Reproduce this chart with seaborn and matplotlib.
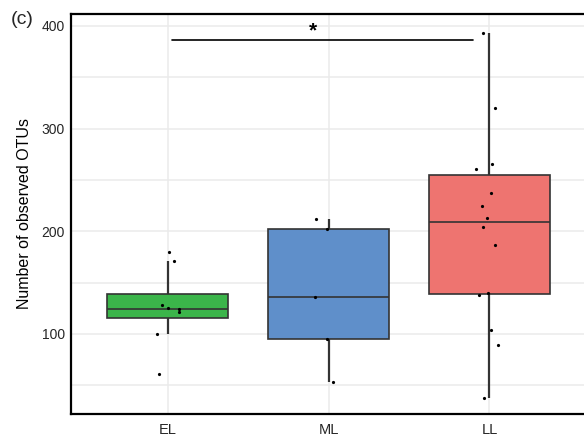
import numpy as np
import pandas as pd
import matplotlib
matplotlib.use("Agg")
import matplotlib.pyplot as plt
import seaborn as sns

# Observed OTU counts per stage
groups = ["EL", "ML", "LL"]
el_otus = [180, 171, 128, 125, 121, 124, 100, 61]
ml_otus = [212, 202, 136, 95, 53]
ll_otus = [393, 320, 265, 261, 237, 225, 213, 204, 187, 140, 138, 104, 89, 38]
colors = {"EL": "#3BB54A", "ML": "#5F8FCA", "LL": "#EE7470"}

y_major = [100, 200, 300, 400]
y_minor = [50, 150, 250, 350]

df = pd.DataFrame({
    "group": ["EL"] * len(el_otus) + ["ML"] * len(ml_otus) + ["LL"] * len(ll_otus),
    "otus": el_otus + ml_otus + ll_otus,
})

sns.set_theme(style="white")
plt.rcParams["font.family"] = ["Liberation Sans", "DejaVu Sans"]

fig = plt.figure(figsize=(5.84, 4.43), dpi=100)
ax = fig.add_axes([71 / 584, 29 / 443, 515 / 584, 400.5 / 443])

# light grid behind everything
for y in y_major + y_minor:
    ax.axhline(y, color="#EBEBEB", lw=1.1, zorder=0)
for i in range(len(groups)):
    ax.axvline(i, color="#EBEBEB", lw=1.1, zorder=0)

sns.boxplot(data=df, x="group", y="otus", hue="group", order=groups,
            palette=colors, width=0.75, showfliers=False, showcaps=False,
            linecolor="#333333", linewidth=1.2, saturation=1, legend=False,
            whiskerprops={"linewidth": 1.6}, ax=ax, zorder=2)

np.random.seed(3)
sns.stripplot(data=df, x="group", y="otus", order=groups, color="black",
              size=2.3, jitter=0.09, ax=ax, zorder=3)

# significance bracket between EL and LL
ax.plot([0.03, 1.9], [386, 386], color="black", lw=1.2, zorder=4)
ax.text(0.905, 395, "*", ha="center", va="center", fontsize=15,
        fontweight="bold", color="black")

ax.set_xlim(-0.6, 2.6)
ax.set_ylim(22, 412)
ax.set_yticks(y_major)
ax.set_xlabel("")
ax.set_ylabel("Number of observed OTUs", fontsize=11.5, color="black", labelpad=7)
ax.tick_params(axis="both", direction="out", length=3.5, width=0.8,
               color="#333333", labelsize=10, labelcolor="#262626", pad=1.0)
ax.tick_params(axis="x", labelsize=10.5, pad=3)

for side in ["top", "left", "bottom"]:
    ax.spines[side].set_visible(True)
    ax.spines[side].set_color("black")
    ax.spines[side].set_linewidth(1.6)
ax.spines["right"].set_visible(False)

fig.text(11 / 584, 1 - 20 / 443, "(c)", fontsize=14, ha="left", va="center")

fig.savefig("out.png", dpi=100)
